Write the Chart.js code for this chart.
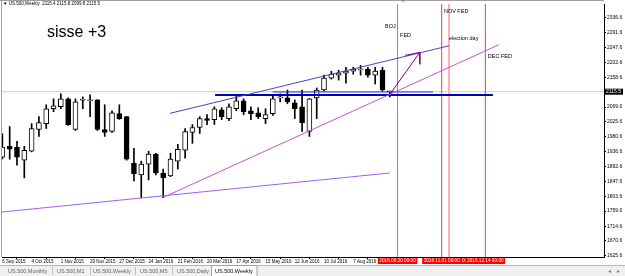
<!DOCTYPE html>
<html>
<head>
<meta charset="utf-8">
<script src="https://cdn.jsdelivr.net/npm/chart.js@4.4.0/dist/chart.umd.min.js"></script>
<style>
html, body { margin: 0; padding: 0; background: #fff; }
</style>
</head>
<body>
<canvas id="weeklyChart" width="625" height="276"></canvas>
<script>
// US.500 weekly candles, index 0 = week of 6 Sep 2015
const opens = [1920, 1952.6, 1949.7, 1911.4, 1938.0, 2002.7, 2020.4, 2064.6, 2070.5, 2094.1,
    2002.7, 2090.0, 2088.5, 2091.2, 2002.7, 1996.8, 2049.9, 2041.0, 1902.5, 1867.0,
    1899.6, 1929.1, 1873.1, 1864.0, 1908.4, 1940.8, 1993.9, 2008.6, 2035.2, 2032.2,
    2061.6, 2035.2, 2064.6, 2088.2, 2058.7, 2052.8, 2035.2, 2049.9, 2097.0, 2097.0,
    2082.3, 2070.5, 1996.8, 2097.0, 2120.6, 2156.0, 2164.8, 2170.7, 2176.6, 2180.0,
    2182.5, 2164.8, 2179.5, 2115.4];
const highs = [1990, 2011.6, 1967.4, 1952.6, 2020.4, 2041.0, 2076.4, 2094.1, 2108.8, 2097.0,
    2094.1, 2100.0, 2105.9, 2092.0, 2076.4, 2058.7, 2076.4, 2042.0, 1946.7, 1908.4,
    1938.0, 1932.0, 1884.9, 1932.0, 1958.5, 2005.7, 2017.5, 2041.0, 2047.0, 2070.5,
    2067.6, 2079.4, 2105.9, 2094.1, 2070.5, 2067.6, 2064.6, 2105.9, 2108.8, 2120.6,
    2091.1, 2120.6, 2095.0, 2126.5, 2164.8, 2176.6, 2179.5, 2188.4, 2188.4, 2194.3,
    2188.4, 2188.4, 2188.4, 2115.8];
const lows = [1915, 1914.3, 1896.6, 1858.3, 1936.0, 1982.1, 2005.7, 2055.8, 2064.6, 2015.0,
    1999.8, 2064.6, 2041.0, 1999.8, 1982.1, 1993.9, 2033.0, 1911.4, 1849.5, 1799.4,
    1852.4, 1867.0, 1799.4, 1862.0, 1884.9, 1917.3, 1961.5, 1991.0, 2017.5, 2017.5,
    2032.2, 2029.3, 2058.7, 2047.0, 2032.2, 2035.2, 2020.4, 2045.0, 2085.2, 2079.4,
    2035.2, 1996.8, 1982.1, 2035.2, 2117.6, 2153.0, 2150.0, 2141.2, 2167.8, 2164.8,
    2158.9, 2138.3, 2117.6, 2099.8];
const closes = [1950, 1943.8, 1920.2, 1940.8, 2005.7, 2023.4, 2064.6, 2073.4, 2094.1, 2017.5,
    2085.2, 2091.2, 2089.0, 2002.7, 1993.9, 2052.8, 2035.2, 1914.3, 1870.0, 1899.6,
    1929.1, 1873.1, 1858.3, 1914.3, 1943.8, 1996.8, 2008.6, 2035.2, 2030.0, 2064.6,
    2041.0, 2070.5, 2088.2, 2055.8, 2049.9, 2041.0, 2047.0, 2094.1, 2100.0, 2085.2,
    2064.6, 2023.4, 2094.1, 2120.6, 2156.0, 2167.8, 2170.7, 2176.6, 2182.5, 2180.5,
    2164.8, 2176.6, 2120.6, 2115.5];

const xTickWeeks = [0, 4, 8, 12, 16, 20, 24, 28, 32, 36, 40, 44, 48];
const xTickLabels = ['6 Sep 2015', '4 Oct 2015', '1 Nov 2015', '29 Nov 2015', '27 Dec 2015',
    '24 Jan 2016', '21 Feb 2016', '20 Mar 2016', '17 Apr 2016', '15 May 2016', '12 Jun 2016',
    '10 Jul 2016', '7 Aug 2016'];
const yTicks = [2336.6, 2291.6, 2247.6, 2202.6, 2158.6, 2069.6, 2025.6, 1980.6, 1936.6,
    1892.6, 1847.6, 1803.6, 1759.6, 1714.6, 1670.6, 1625.6];
const lastPrice = 2115.5;

// drawn objects (week index, price)
const upperTrend = [{x: 22.9, y: 2050.8}, {x: 61.1, y: 2252.3}];
const lowerTrend = [{x: 22.0, y: 1800.3}, {x: 67.9, y: 2255.3}];
const longTrend = [{x: -0.3, y: 1756.1}, {x: 53.0, y: 1873.1}];
const thickLevel = [{x: 29.1, y: 2105.9}, {x: 67.1, y: 2105.9}];
const thinLevel = [{x: 37.0, y: 2114.7}, {x: 58.9, y: 2114.7}];
const arrowShaft = [{x: 53.05, y: 2108.8}, {x: 57.1, y: 2232.6}];
const arrowHead = [{x: 55.1, y: 2223.7}, {x: 57.1, y: 2232.6}, {x: 57.1, y: 2197.2}];
const eventWeeks = [54.06, 61.1, 60.1, 66.07];
const eventDates = ['2016.09.20 00:00', '2016.11.08 00:00', '2016.11.01 00:00', '2016.12.14 00:00'];
const eventColors = ['#e86a6a', '#f6b4b4', '#e84040', '#e84040'];
const notes = [
    {text: 'BOJ', x: 52.35, y: 2309.2},
    {text: 'FED', x: 54.4, y: 2284.1},
    {text: 'NOV FED', x: 60.4, y: 2353.4},
    {text: 'election day', x: 61.1, y: 2273.8},
    {text: 'DEC FED', x: 66.4, y: 2220.8}
];
const tabNames = ['US.500,Monthly', 'US.500,M1', 'US.500,Weekly', 'US.500,M5', 'US.500,Daily', 'US.500,Weekly'];

const FONT = 'Liberation Sans, Arial, sans-serif';

function lineSet(points, color, width) {
    return {
        type: 'line',
        data: points,
        borderColor: color,
        borderWidth: width,
        pointRadius: 0,
        fill: false,
        tension: 0
    };
}

function isUp(i) {
    return closes[i] >= opens[i];
}

const mt4Extras = {
    id: 'mt4Extras',
    beforeDraw(chart) {
        const ctx = chart.ctx;
        ctx.save();
        ctx.fillStyle = '#fff';
        ctx.fillRect(0, 0, chart.width, chart.height);
        ctx.restore();
    },
    afterDraw(chart) {
        const ctx = chart.ctx;
        const xs = chart.scales.x;
        const ys = chart.scales.y;
        const area = chart.chartArea;
        ctx.save();

        // frame
        ctx.strokeStyle = '#a0a0a0';
        ctx.lineWidth = 1;
        ctx.beginPath();
        ctx.moveTo(1.5, 0); ctx.lineTo(1.5, area.bottom);
        ctx.moveTo(0, 0.5); ctx.lineTo(area.right, 0.5);
        ctx.stroke();

        // title
        ctx.fillStyle = '#000';
        ctx.font = '4.5px ' + FONT;
        ctx.textBaseline = 'middle';
        ctx.textAlign = 'left';
        ctx.fillText('\u25BC US.500,Weekly  2115.4 2115.8 2099.8 2115.5', 3, 3.5);

        ctx.font = '16px ' + FONT;
        ctx.fillText('sisse +3', 47, 33);

        // text objects
        ctx.font = '5.5px ' + FONT;
        notes.forEach(n => {
            ctx.fillText(n.text, xs.getPixelForValue(n.x), ys.getPixelForValue(n.y));
        });

        // shift marker
        ctx.fillStyle = '#909090';
        ctx.beginPath();
        ctx.moveTo(401, 0); ctx.lineTo(405, 0); ctx.lineTo(403, 2.5);
        ctx.fill();

        // price tag
        const py = ys.getPixelForValue(lastPrice);
        ctx.fillStyle = '#000';
        ctx.fillRect(area.right + 1, py - 3, 18, 6);
        ctx.fillStyle = '#fff';
        ctx.font = '5px ' + FONT;
        ctx.fillText(lastPrice.toFixed(1), area.right + 2, py + 0.3);

        // event date boxes on time axis
        ctx.font = '4.7px ' + FONT;
        ctx.textAlign = 'center';
        eventWeeks.forEach((w, i) => {
            const px = xs.getPixelForValue(w);
            const tw = ctx.measureText(eventDates[i]).width + 3;
            ctx.fillStyle = '#ff0000';
            ctx.fillRect(px - tw / 2, area.bottom + 1, tw, 6);
            ctx.fillStyle = '#fff';
            ctx.fillText(eventDates[i], px, area.bottom + 4.2);
        });

        // symbol tabs
        ctx.fillStyle = '#f0f0f0';
        ctx.fillRect(0, 265.5, chart.width, 11);
        ctx.strokeStyle = '#b4b4b4';
        ctx.beginPath();
        ctx.moveTo(0, 265.5); ctx.lineTo(chart.width, 265.5);
        ctx.stroke();
        const tabX = [8, 57, 93, 140, 177, 215];
        const sepX = [52, 90, 135, 172, 211];
        ctx.fillStyle = '#fff';
        ctx.fillRect(212, 265.5, 45, 10.5);
        ctx.strokeStyle = '#a0a0a0';
        ctx.strokeRect(211.5, 265.5, 45.5, 11);
        ctx.strokeStyle = '#c0c0c0';
        sepX.slice(0, 4).forEach(sx => {
            ctx.beginPath();
            ctx.moveTo(sx + 0.5, 267); ctx.lineTo(sx + 0.5, 275);
            ctx.stroke();
        });
        ctx.font = '5.5px ' + FONT;
        ctx.textAlign = 'left';
        tabNames.forEach((t, i) => {
            ctx.fillStyle = i === tabNames.length - 1 ? '#000' : '#606060';
            ctx.fillText(t, tabX[i], 271.5);
        });
        ctx.fillStyle = '#808080';
        ctx.fillText('\u25C2', 608, 271.5);
        ctx.fillText('\u25B8', 617, 271.5);
        ctx.restore();
    }
};

function chart() {
    const ctx = document.getElementById('weeklyChart').getContext('2d');
    const bodies = opens.map((o, i) => ({x: i, y: [o, closes[i]]}));
    const wicks = lows.map((l, i) => ({x: i, y: [l, highs[i]]}));
    const events = eventWeeks.map((w, i) => lineSet([{x: w, y: 1500}, {x: w, y: 2500}], eventColors[i], i === 1 ? 2 : 1));

    new Chart(ctx, {
        type: 'bar',
        data: {
            datasets: [
                lineSet(arrowHead, '#800080', 1),
                lineSet(arrowShaft, '#800080', 1),
                lineSet(upperTrend, '#4646c0', 1),
                lineSet(lowerTrend, '#c455c8', 1),
                lineSet(thinLevel, '#2a2ae8', 1),
                lineSet(thickLevel, '#0000b8', 2),
                lineSet(longTrend, '#a060ec', 1),
                ...events,
                {
                    type: 'bar',
                    data: bodies,
                    grouped: false,
                    barThickness: 5,
                    minBarLength: 1,
                    borderWidth: 1,
                    borderSkipped: false,
                    borderColor: '#000',
                    backgroundColor: c => isUp(c.dataIndex) ? '#fff' : '#000'
                },
                {
                    type: 'bar',
                    data: wicks,
                    grouped: false,
                    barThickness: 1,
                    backgroundColor: '#000'
                },
                lineSet([{x: -5, y: lastPrice}, {x: 90, y: lastPrice}], '#cfcfcf', 1)
            ]
        },
        options: {
            responsive: false,
            animation: false,
            devicePixelRatio: 1,
            layout: { padding: { left: 2, top: 1, right: 0, bottom: 0 } },
            plugins: { legend: { display: false }, tooltip: { enabled: false } },
            scales: {
                x: {
                    type: 'linear',
                    min: -0.05,
                    max: 82.3,
                    offset: false,
                    afterBuildTicks: s => { s.ticks = xTickWeeks.map(v => ({value: v})); },
                    afterFit: s => { s.height = 19; },
                    grid: { drawOnChartArea: false, tickLength: 2, color: '#000' },
                    border: { color: '#000', width: 1 },
                    ticks: {
                        autoSkip: false,
                        maxRotation: 0,
                        align: 'start',
                        padding: 0,
                        color: '#000',
                        font: { size: 4.5, family: FONT },
                        callback: v => xTickLabels[xTickWeeks.indexOf(v)]
                    }
                },
                y: {
                    type: 'linear',
                    position: 'right',
                    min: 1622.6,
                    max: 2376.9,
                    afterBuildTicks: s => { s.ticks = yTicks.map(v => ({value: v})); },
                    afterFit: s => { s.width = 21; },
                    grid: { drawOnChartArea: false, tickLength: 2, color: '#000' },
                    border: { color: '#000', width: 1 },
                    ticks: {
                        autoSkip: false,
                        padding: 1,
                        color: '#000',
                        font: { size: 5, family: FONT },
                        callback: v => v.toFixed(1)
                    }
                }
            }
        },
        plugins: [mt4Extras]
    });
}

window.onload = chart;
</script>
</body>
</html>
